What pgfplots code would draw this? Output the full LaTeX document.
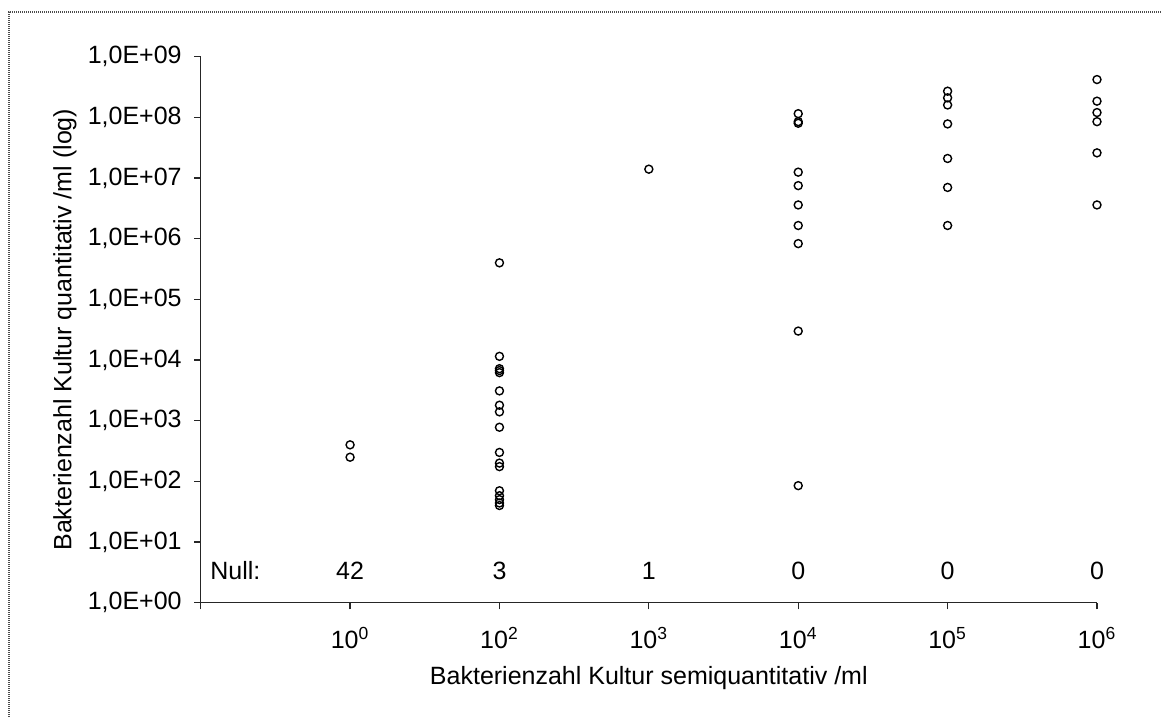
\documentclass[border=0pt]{standalone}
\usepackage{fontspec}
\setmainfont{Liberation Sans}
\usepackage{pgfplots}
\pgfplotsset{compat=1.18}
\begin{document}
\begin{tikzpicture}[font=\fontsize{12.5}{15}\selectfont]
\useasboundingbox (0,0) rectangle (581pt,358.5pt);
\draw[line width=1pt, black!70, dash pattern=on 0.5pt off 0.5pt] (4.5pt,-10pt) -- (4.5pt,352.5pt) -- (600pt,352.5pt);
\begin{axis}[
  at={(100.35pt,57.15pt)}, anchor=south west,
  scale only axis, width=448.15pt, height=273pt,
  xmin=0, xmax=6, ymode=log, ymin=1, ymax=1e9,
  axis x line=bottom, axis y line=left,
  axis line style={-, black!85, line width=0.6pt},
  tick align=outside, major tick length=3.3pt,
  tick style={black!85, line width=0.6pt},
  minor tick num=0, log basis y=10,
  yminorticks=false,
  xtick={0,1,2,3,4,5,6},
  xticklabels={{},10\textsuperscript{0},10\textsuperscript{2},10\textsuperscript{3},10\textsuperscript{4},10\textsuperscript{5},10\textsuperscript{6}},
  ytick={1,10,100,1000,10000,100000,1000000,10000000,100000000,1000000000},
  yticklabels={{1,0E+00},{1,0E+01},{1,0E+02},{1,0E+03},{1,0E+04},{1,0E+05},{1,0E+06},{1,0E+07},{1,0E+08},{1,0E+09}},
  yticklabel style={anchor=east, inner sep=0pt, xshift=-6.05pt, font=\fontsize{12.5}{15}\selectfont},
  xticklabel style={anchor=base, inner sep=0pt, yshift=-19.5pt, font=\fontsize{12.5}{15}\selectfont},
  xlabel={Bakterienzahl Kultur semiquantitativ /ml},
  ylabel={Bakterienzahl Kultur quantitativ /ml (log)},
  xlabel style={at={(axis description cs:0.5,0)}, anchor=center, yshift=-37.5pt},
  ylabel style={at={(axis description cs:0,0.5)}, anchor=center, yshift=67.9pt, rotate=0},
  clip=false,
]
\addplot[only marks, mark=o, mark size=2pt, mark options={line width=0.7pt, black}] coordinates {
(1,400) (1,250)
(2,400000) (2,11500) (2,7200) (2,6700) (2,6200) (2,3100) (2,1800) (2,1400) (2,780) (2,300) (2,200) (2,175) (2,70) (2,58) (2,50) (2,44) (2,40)
(3,14000000)
(4,115000000) (4,85000000) (4,80000000) (4,12500000) (4,7500000) (4,3600000) (4,1650000) (4,830000) (4,30000) (4,85)
(5,270000000) (5,210000000) (5,160000000) (5,78000000) (5,21000000) (5,7000000) (5,1650000)
(6,420000000) (6,185000000) (6,120000000) (6,85000000) (6,26000000) (6,3600000)
};
\node[anchor=base west, inner sep=0pt] at (axis cs:0.062,2.37) {Null:};
\node[anchor=base, inner sep=0pt] at (axis cs:1,2.37) {42};
\node[anchor=base, inner sep=0pt] at (axis cs:2,2.37) {3};
\node[anchor=base, inner sep=0pt] at (axis cs:3,2.37) {1};
\node[anchor=base, inner sep=0pt] at (axis cs:4,2.37) {0};
\node[anchor=base, inner sep=0pt] at (axis cs:5,2.37) {0};
\node[anchor=base, inner sep=0pt] at (axis cs:6,2.37) {0};
\end{axis}
\end{tikzpicture}
\end{document}
